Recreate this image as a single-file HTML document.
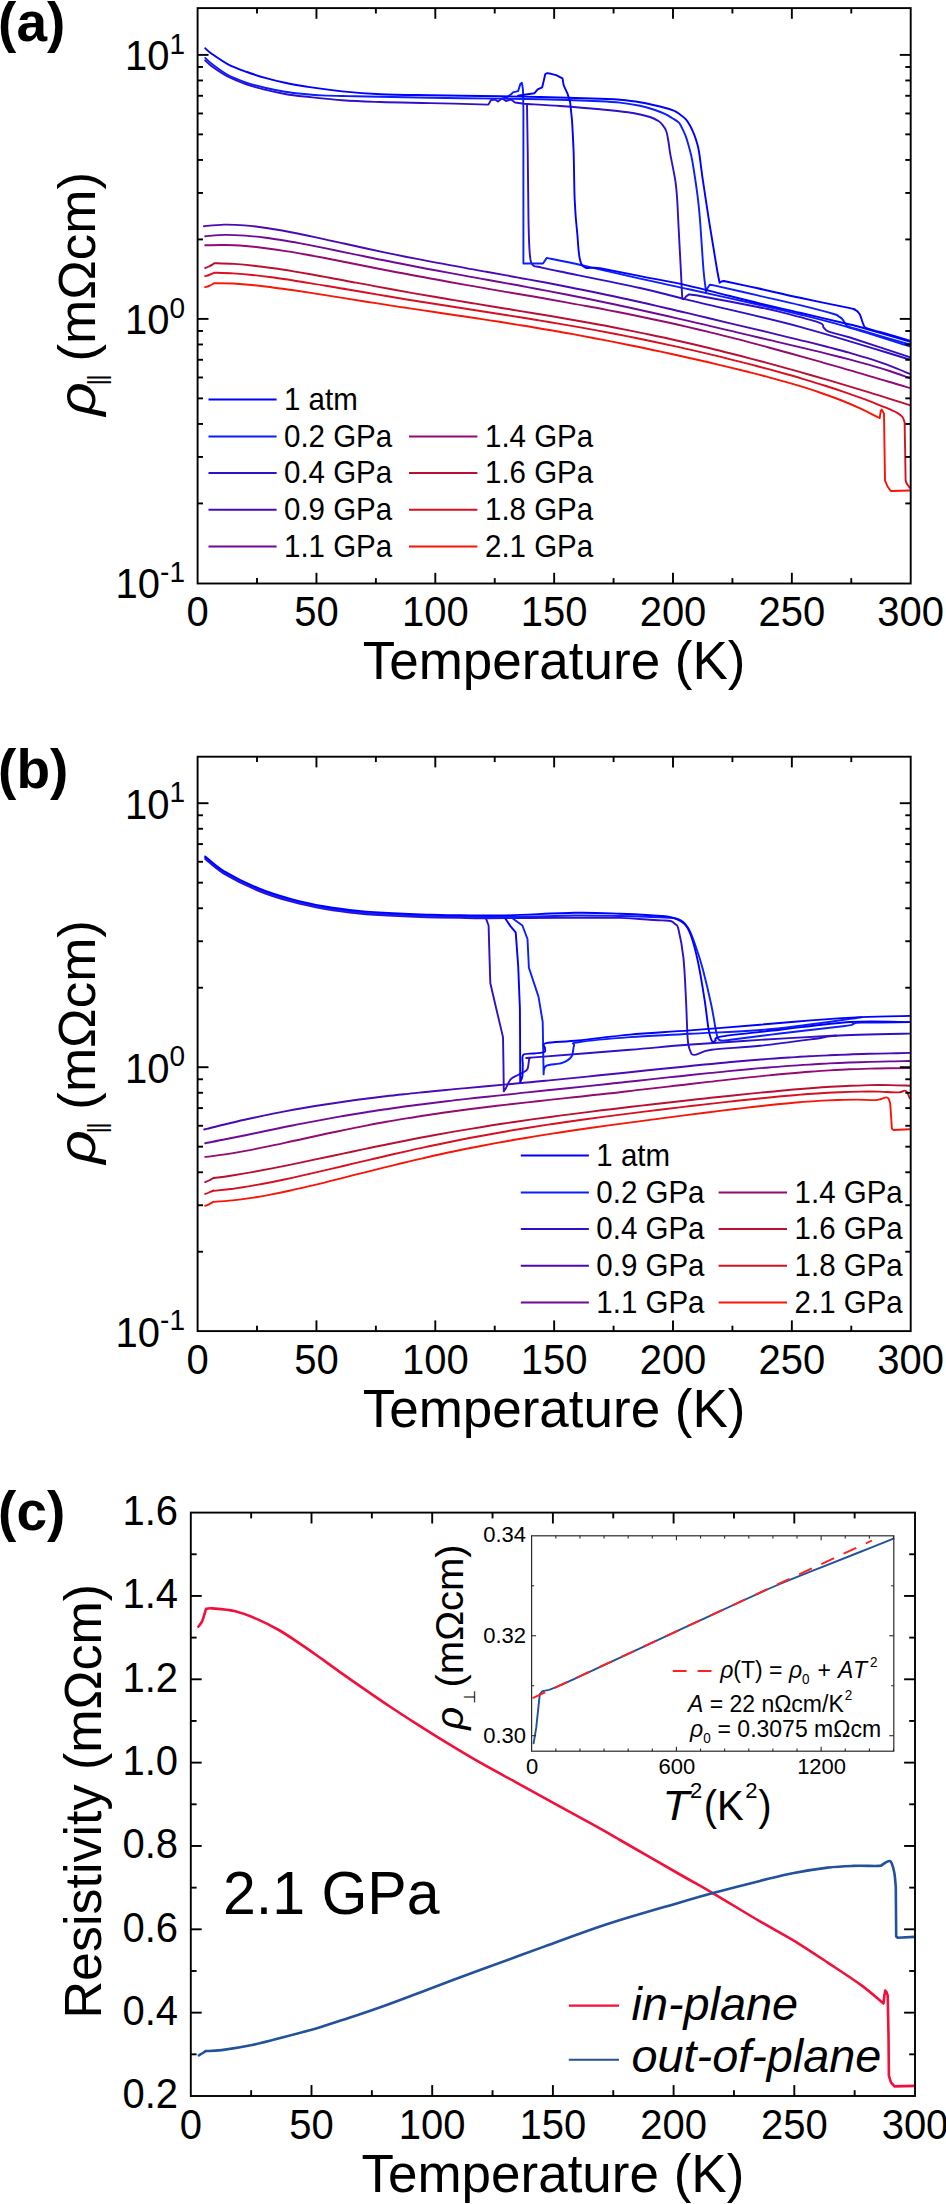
<!DOCTYPE html>
<html><head><meta charset="utf-8"><title>Figure</title>
<style>
html,body{margin:0;padding:0;background:#fff;}
svg{display:block;}
text{font-family:"Liberation Sans",sans-serif;fill:#000;}
.b{font-weight:bold;}
.i{font-style:italic;}
</style></head><body>
<svg width="946" height="2204" viewBox="0 0 946 2204">
<rect width="946" height="2204" fill="#fff"/>
<path d="M204.0 226.2C207.4 225.9 217.4 224.8 224.2 224.6C230.9 224.5 237.6 224.8 244.3 225.4C251.0 225.9 257.8 226.7 264.5 227.7C271.2 228.6 277.9 229.8 284.7 231.0C291.4 232.3 298.1 233.6 304.8 235.0C311.5 236.4 318.3 237.9 325.0 239.4C331.7 240.8 338.4 242.4 345.1 243.8C351.9 245.3 358.6 246.8 365.3 248.3C372.0 249.7 378.7 251.1 385.5 252.6C392.2 254.0 398.9 255.3 405.6 256.7C412.3 258.0 419.1 259.3 425.8 260.6C432.5 261.9 439.2 263.2 446.0 264.4C452.7 265.7 459.4 266.9 466.1 268.1C472.8 269.4 479.6 270.6 486.3 271.8C493.0 273.0 499.7 274.2 506.4 275.4C513.2 276.6 519.9 277.8 526.6 279.1C533.3 280.3 540.0 281.6 546.8 282.8C553.5 284.1 560.2 285.4 566.9 286.7C573.7 288.0 580.4 289.4 587.1 290.8C593.8 292.1 600.5 293.5 607.3 295.0C614.0 296.4 620.7 297.8 627.4 299.3C634.1 300.8 640.9 302.3 647.6 303.8C654.3 305.4 661.0 306.9 667.7 308.5C674.5 310.0 681.2 311.6 687.9 313.2C694.6 314.8 701.4 316.4 708.1 318.0C714.8 319.6 721.5 321.2 728.2 322.8C735.0 324.4 741.7 326.0 748.4 327.6C755.1 329.2 761.8 330.8 768.6 332.4C775.3 334.0 782.0 335.7 788.7 337.3C795.4 338.9 802.2 340.5 808.9 342.2C815.6 343.9 822.3 345.6 829.0 347.3C835.8 349.1 842.5 350.8 849.2 352.7C855.9 354.7 862.7 356.6 869.4 358.7C876.1 360.9 882.8 363.1 889.5 365.6C896.3 368.1 906.3 372.4 909.7 373.8" fill="none" stroke="#480AB4" stroke-width="1.9" stroke-linejoin="round" stroke-linecap="round" />
<path d="M205.2 236.2C208.6 236.0 218.6 235.0 225.3 234.9C232.0 234.8 238.7 235.2 245.5 235.6C252.2 236.1 258.9 236.9 265.6 237.7C272.3 238.6 279.0 239.7 285.7 240.8C292.4 241.9 299.1 243.2 305.8 244.4C312.6 245.7 319.3 247.1 326.0 248.4C332.7 249.8 339.4 251.2 346.1 252.6C352.8 253.9 359.5 255.3 366.2 256.7C372.9 258.1 379.6 259.5 386.4 260.8C393.1 262.2 399.8 263.5 406.5 264.8C413.2 266.1 419.9 267.4 426.6 268.7C433.3 269.9 440.0 271.2 446.7 272.4C453.5 273.7 460.2 274.9 466.9 276.1C473.6 277.4 480.3 278.6 487.0 279.8C493.7 281.0 500.4 282.2 507.1 283.4C513.8 284.7 520.5 285.9 527.3 287.1C534.0 288.4 540.7 289.6 547.4 290.9C554.1 292.2 560.8 293.5 567.5 294.8C574.2 296.1 580.9 297.5 587.6 298.8C594.4 300.2 601.1 301.6 607.8 303.0C614.5 304.4 621.2 305.8 627.9 307.3C634.6 308.8 641.3 310.2 648.0 311.7C654.7 313.2 661.4 314.8 668.2 316.3C674.9 317.8 681.6 319.4 688.3 320.9C695.0 322.5 701.7 324.1 708.4 325.6C715.1 327.2 721.8 328.8 728.5 330.4C735.3 331.9 742.0 333.5 748.7 335.1C755.4 336.7 762.1 338.3 768.8 339.9C775.5 341.4 782.2 343.0 788.9 344.6C795.6 346.2 802.3 347.8 809.1 349.4C815.8 351.0 822.5 352.6 829.2 354.3C835.9 356.0 842.6 357.7 849.3 359.4C856.0 361.2 862.7 363.0 869.4 364.9C876.2 366.9 882.9 368.9 889.6 371.0C896.3 373.2 906.3 376.9 909.7 378.1" fill="none" stroke="#6E0A96" stroke-width="1.9" stroke-linejoin="round" stroke-linecap="round" />
<path d="M205.2 245.3C208.6 245.3 218.6 244.8 225.3 245.0C232.0 245.1 238.7 245.5 245.5 246.0C252.2 246.6 258.9 247.3 265.6 248.2C272.3 249.0 279.0 250.0 285.7 251.1C292.4 252.1 299.1 253.3 305.8 254.5C312.6 255.7 319.3 257.0 326.0 258.3C332.7 259.6 339.4 260.9 346.1 262.2C352.8 263.5 359.5 264.9 366.2 266.2C372.9 267.5 379.6 268.8 386.4 270.2C393.1 271.5 399.8 272.8 406.5 274.0C413.2 275.3 419.9 276.6 426.6 277.8C433.3 279.1 440.0 280.3 446.7 281.5C453.5 282.7 460.2 283.9 466.9 285.1C473.6 286.3 480.3 287.5 487.0 288.6C493.7 289.8 500.4 290.9 507.1 292.1C513.8 293.2 520.5 294.4 527.3 295.5C534.0 296.7 540.7 297.9 547.4 299.0C554.1 300.2 560.8 301.4 567.5 302.6C574.2 303.8 580.9 305.0 587.6 306.3C594.4 307.5 601.1 308.8 607.8 310.1C614.5 311.4 621.2 312.7 627.9 314.0C634.6 315.4 641.3 316.8 648.0 318.2C654.7 319.6 661.4 321.1 668.2 322.5C674.9 324.0 681.6 325.6 688.3 327.1C695.0 328.7 701.7 330.3 708.4 331.9C715.1 333.5 721.8 335.2 728.5 336.9C735.3 338.6 742.0 340.3 748.7 342.1C755.4 343.9 762.1 345.6 768.8 347.5C775.5 349.3 782.2 351.1 788.9 353.0C795.6 354.8 802.3 356.7 809.1 358.6C815.8 360.5 822.5 362.4 829.2 364.4C835.9 366.3 842.6 368.2 849.3 370.2C856.0 372.1 862.7 374.1 869.4 376.1C876.2 378.0 882.9 380.0 889.6 382.0C896.3 383.9 906.3 386.9 909.7 387.9" fill="none" stroke="#930A70" stroke-width="1.9" stroke-linejoin="round" stroke-linecap="round" />
<path d="M205.2 268.0C205.8 267.8 207.5 267.2 209.0 266.5C210.5 265.8 213.2 264.0 214.1 263.5L214.1 263.2C217.4 263.3 227.3 263.5 234.0 263.9C240.6 264.4 247.2 265.0 253.8 265.7C260.5 266.5 267.1 267.4 273.7 268.3C280.3 269.2 287.0 270.3 293.6 271.4C300.2 272.5 306.8 273.7 313.5 274.8C320.1 276.0 326.7 277.2 333.3 278.5C340.0 279.7 346.6 280.9 353.2 282.2C359.8 283.4 366.5 284.6 373.1 285.9C379.7 287.1 386.3 288.3 393.0 289.5C399.6 290.7 406.2 291.9 412.8 293.1C419.5 294.2 426.1 295.4 432.7 296.5C439.3 297.7 446.0 298.8 452.6 299.9C459.2 301.0 465.8 302.1 472.5 303.2C479.1 304.3 485.7 305.4 492.3 306.5C499.0 307.5 505.6 308.6 512.2 309.7C518.8 310.8 525.5 311.9 532.1 313.0C538.7 314.1 545.3 315.2 552.0 316.3C558.6 317.4 565.2 318.6 571.8 319.7C578.5 320.9 585.1 322.1 591.7 323.3C598.3 324.5 605.0 325.7 611.6 327.0C618.2 328.3 624.8 329.6 631.5 330.9C638.1 332.2 644.7 333.6 651.3 335.0C658.0 336.4 664.6 337.8 671.2 339.3C677.8 340.8 684.5 342.3 691.1 343.8C697.7 345.3 704.3 346.9 711.0 348.5C717.6 350.1 724.2 351.8 730.8 353.5C737.5 355.1 744.1 356.8 750.7 358.6C757.3 360.3 764.0 362.1 770.6 363.9C777.2 365.7 783.8 367.5 790.5 369.3C797.1 371.2 803.7 373.1 810.3 375.0C817.0 376.9 823.6 378.8 830.2 380.7C836.8 382.7 843.5 384.6 850.1 386.6C856.7 388.6 863.3 390.6 870.0 392.7C876.6 394.7 883.2 396.8 889.8 398.9C896.5 401.0 906.4 404.2 909.7 405.2" fill="none" stroke="#BA0F32" stroke-width="1.9" stroke-linejoin="round" stroke-linecap="round" />
<path d="M205.2 276.1C205.8 275.9 207.5 275.6 209.0 275.0C210.5 274.4 213.2 273.2 214.1 272.8L214.1 272.7C217.3 272.8 226.8 273.0 233.2 273.4C239.6 273.8 246.0 274.3 252.3 275.0C258.7 275.6 265.1 276.4 271.5 277.3C277.8 278.1 284.2 279.1 290.6 280.0C297.0 281.0 303.3 282.0 309.7 283.1C316.1 284.1 322.5 285.2 328.8 286.3C335.2 287.4 341.6 288.5 348.0 289.5C354.3 290.6 360.7 291.7 367.1 292.8C373.5 293.9 379.8 294.9 386.2 296.0C392.6 297.1 399.0 298.1 405.3 299.2C411.7 300.2 418.1 301.2 424.5 302.3C430.8 303.3 437.2 304.3 443.6 305.3C449.9 306.3 456.3 307.3 462.7 308.3C469.1 309.3 475.4 310.3 481.8 311.3C488.2 312.3 494.6 313.3 500.9 314.3C507.3 315.3 513.7 316.3 520.1 317.3C526.4 318.3 532.8 319.4 539.2 320.4C545.6 321.5 551.9 322.5 558.3 323.6C564.7 324.7 571.1 325.8 577.4 326.9C583.8 328.1 590.2 329.2 596.6 330.4C602.9 331.6 609.3 332.8 615.7 334.0C622.1 335.3 628.4 336.5 634.8 337.8C641.2 339.1 647.6 340.4 653.9 341.7C660.3 343.1 666.7 344.5 673.0 345.9C679.4 347.3 685.8 348.7 692.2 350.2C698.5 351.6 704.9 353.1 711.3 354.6C717.7 356.2 724.0 357.7 730.4 359.3C736.8 360.9 743.2 362.5 749.5 364.1C755.9 365.8 762.3 367.5 768.7 369.2C775.0 370.9 781.4 372.7 787.8 374.5C794.2 376.3 800.5 378.2 806.9 380.1C813.3 382.0 819.7 384.0 826.0 386.0C832.4 388.0 838.8 390.1 845.2 392.3C851.5 394.5 857.9 396.8 864.3 399.2C870.7 401.6 877.9 404.5 883.4 406.7C888.9 409.0 894.0 411.1 897.2 412.8C900.4 414.5 901.3 415.4 902.5 417.0C903.7 418.6 904.2 421.4 904.6 422.3L904.6 422.3L905.1 448.7L905.6 480.4L906.7 483.6L909.9 487.8" fill="none" stroke="#D80F1E" stroke-width="1.9" stroke-linejoin="round" stroke-linecap="round" />
<path d="M205.2 287.1C205.8 286.9 207.5 286.6 209.0 286.0C210.5 285.4 213.2 283.7 214.1 283.2L214.1 283.1C217.3 283.1 226.8 283.2 233.1 283.5C239.5 283.9 245.8 284.4 252.1 285.0C258.5 285.6 264.8 286.4 271.2 287.2C277.5 288.0 283.8 288.9 290.2 289.8C296.5 290.7 302.8 291.7 309.2 292.6C315.5 293.6 321.9 294.6 328.2 295.6C334.5 296.6 340.9 297.6 347.2 298.6C353.6 299.7 359.9 300.7 366.2 301.7C372.6 302.7 378.9 303.6 385.3 304.6C391.6 305.6 397.9 306.6 404.3 307.5C410.6 308.5 416.9 309.4 423.3 310.4C429.6 311.3 436.0 312.3 442.3 313.2C448.6 314.2 455.0 315.1 461.3 316.0C467.7 317.0 474.0 317.9 480.3 318.9C486.7 319.9 493.0 320.8 499.4 321.8C505.7 322.8 512.0 323.8 518.4 324.9C524.7 325.9 531.1 326.9 537.4 328.0C543.7 329.0 550.1 330.1 556.4 331.2C562.7 332.4 569.1 333.5 575.4 334.6C581.8 335.8 588.1 337.0 594.4 338.2C600.8 339.4 607.1 340.6 613.5 341.9C619.8 343.1 626.1 344.4 632.5 345.7C638.8 347.0 645.2 348.3 651.5 349.7C657.8 351.0 664.2 352.4 670.5 353.8C676.9 355.2 683.2 356.6 689.5 358.0C695.9 359.4 702.2 360.9 708.5 362.3C714.9 363.8 721.2 365.3 727.6 366.8C733.9 368.4 740.2 369.9 746.6 371.5C752.9 373.1 759.3 374.7 765.6 376.4C771.9 378.1 778.3 379.8 784.6 381.6C791.0 383.4 797.3 385.3 803.6 387.2C810.0 389.2 816.3 391.3 822.6 393.5C829.0 395.7 835.3 398.0 841.7 400.5C848.0 403.0 854.3 405.7 860.7 408.6C867.0 411.6 876.5 416.6 879.7 418.1L879.7 418.1L880.8 410.7L881.8 409.6L884.0 413.8L884.5 447.7L885.0 480.4L887.7 486.8L890.8 491.0L909.9 490.5" fill="none" stroke="#FA1405" stroke-width="1.9" stroke-linejoin="round" stroke-linecap="round" />
<path d="M205.2 60.5C206.3 61.5 208.2 63.8 212.0 66.5C215.8 69.2 222.2 73.7 228.0 76.7C233.8 79.7 240.7 82.3 247.0 84.5C253.3 86.7 259.8 88.3 266.1 89.9C272.4 91.5 278.6 92.9 285.0 94.0C291.4 95.1 294.6 95.5 304.2 96.5C313.8 97.5 329.6 99.4 342.3 100.3C355.0 101.2 365.8 101.5 380.4 102.0C395.0 102.5 412.0 102.7 430.0 103.1C448.0 103.5 478.7 104.3 488.4 104.6L488.4 104.6L491.0 100.0L495.0 99.5L498.0 101.5L502.0 98.5L506.0 101.0L511.0 99.5L515.0 102.5L524.0 103.8L524.0 103.8C530.0 104.2 547.3 105.1 560.0 106.0C572.7 106.9 587.8 108.1 600.0 109.3C612.2 110.5 624.7 111.7 633.0 113.0C641.3 114.3 645.8 115.7 650.0 117.0C654.2 118.3 656.4 119.8 658.4 121.0C660.4 122.2 660.7 122.6 662.0 124.3C663.3 126.0 665.1 128.1 666.2 131.0C667.3 133.9 667.8 138.1 668.5 142.0C669.2 145.9 669.2 148.1 670.4 154.7C671.6 161.3 674.4 174.2 675.5 181.8C676.6 189.4 676.6 191.1 677.2 200.0C677.8 208.9 678.1 218.5 679.0 235.0C679.9 251.5 681.8 288.2 682.3 298.9L682.3 298.9L684.0 299.3L686.0 296.5L689.0 294.4L689.0 294.4C690.8 294.7 688.5 293.9 700.0 296.0C711.5 298.1 744.7 304.4 757.7 307.0C770.7 309.6 767.9 308.8 778.0 311.4C788.1 314.0 810.9 319.7 818.5 322.4C826.1 325.1 821.9 325.9 823.6 327.5C825.3 329.1 824.3 330.0 828.7 331.7C833.1 333.4 836.5 333.2 850.0 337.5C863.5 341.8 899.8 353.9 909.7 357.2" fill="none" stroke="#300FC8" stroke-width="1.9" stroke-linejoin="round" stroke-linecap="round" />
<path d="M909.7 359.5C891.4 354.1 836.6 336.7 800.0 326.8C763.4 316.9 716.7 306.9 690.0 300.4C663.3 293.9 661.7 292.8 640.0 288.0C618.3 283.2 577.0 275.0 560.0 271.5C543.0 268.0 542.3 267.7 538.0 266.8C533.7 265.9 535.2 266.8 534.0 266.0C532.8 265.2 531.8 264.7 531.0 262.0C530.2 259.3 529.9 257.0 529.5 250.0C529.1 243.0 528.8 236.7 528.5 220.0C528.2 203.3 528.0 169.3 527.7 150.0C527.5 130.7 527.1 111.7 527.0 104.0" fill="none" stroke="#300FC8" stroke-width="1.9" stroke-linejoin="round" stroke-linecap="round" />
<path d="M503.0 98.4L507.0 97.0L511.1 94.3L513.0 92.3L518.1 91.1L520.3 84.1L521.9 82.8L522.9 89.2L523.2 98.0L523.4 110.0L523.4 263.5L543.0 263.5L546.8 257.9L546.8 257.9C552.6 259.1 566.3 261.8 581.8 265.2C597.3 268.6 622.0 274.6 640.0 278.6C658.0 282.7 670.4 285.2 690.0 289.5C709.6 293.8 739.4 300.3 757.7 304.5C776.0 308.7 785.1 310.8 800.0 314.5C814.9 318.2 828.6 321.5 846.9 326.8C865.2 332.1 899.2 343.1 909.7 346.4" fill="none" stroke="#0A1EFF" stroke-width="1.9" stroke-linejoin="round" stroke-linecap="round" />
<path d="M205.2 57.9C206.3 58.9 208.2 61.1 212.0 64.0C215.8 66.8 222.2 71.9 228.0 75.0C233.8 78.1 240.7 80.6 247.0 82.8C253.3 85.0 259.8 86.5 266.1 88.0C272.4 89.5 278.6 90.7 285.0 91.7C291.4 92.7 298.1 93.4 304.2 94.0C310.3 94.6 315.5 95.1 321.9 95.4C328.2 95.7 336.8 95.9 342.3 96.0C347.8 96.1 348.6 96.1 355.0 96.2C361.4 96.3 367.9 96.5 380.4 96.8C392.9 97.1 410.1 97.5 430.0 97.8C449.9 98.1 481.7 98.4 500.0 98.6C518.3 98.8 523.3 98.8 540.0 99.2C556.7 99.6 586.7 100.6 600.0 101.2C613.3 101.8 613.3 101.8 620.0 102.6C626.7 103.4 634.2 104.6 640.0 105.8C645.8 107.0 650.8 108.6 655.0 110.0C659.2 111.4 662.6 112.8 665.4 114.1C668.2 115.4 669.8 116.6 672.0 118.0C674.2 119.4 677.2 120.9 678.9 122.6C680.6 124.3 680.9 125.8 682.0 128.0C683.1 130.2 684.5 132.9 685.7 136.1C686.9 139.3 687.9 142.8 689.0 147.0C690.1 151.2 691.0 153.4 692.4 161.5C693.8 169.6 696.2 185.6 697.5 195.3C698.8 205.1 699.0 207.6 700.0 220.0C701.0 232.4 702.5 258.0 703.5 270.0C704.5 282.0 705.7 288.3 706.1 292.0L706.1 292.0L707.5 288.0L709.5 285.2L709.5 285.2C710.4 285.3 707.0 283.9 715.0 285.6C723.0 287.3 743.5 292.1 757.7 295.4C771.9 298.7 787.3 302.1 800.0 305.2C812.7 308.3 827.5 312.2 833.8 314.0C840.1 315.8 836.6 315.2 838.0 316.0C839.4 316.8 840.9 317.6 842.2 319.0C843.5 320.4 844.6 322.9 845.6 324.1C846.6 325.4 845.6 325.5 848.0 326.5C850.4 327.5 849.7 327.0 860.0 330.0C870.3 333.0 901.4 342.1 909.7 344.5" fill="none" stroke="#0A1EFF" stroke-width="1.9" stroke-linejoin="round" stroke-linecap="round" />
<path d="M205.2 48.3C206.3 49.2 208.2 51.3 212.0 54.0C215.8 56.7 222.2 61.3 228.0 64.3C233.8 67.3 240.7 69.7 247.0 72.0C253.3 74.3 259.8 76.4 266.1 78.2C272.4 80.0 278.6 81.5 285.0 82.8C291.4 84.1 294.6 84.9 304.2 86.3C313.8 87.7 329.6 90.1 342.3 91.4C355.0 92.7 365.8 93.6 380.4 94.2C395.0 94.8 410.1 94.9 430.0 95.2C449.9 95.5 481.7 96.0 500.0 96.3C518.3 96.6 523.3 96.6 540.0 97.0C556.7 97.4 586.7 98.3 600.0 98.8C613.3 99.3 613.3 99.2 620.0 99.8C626.7 100.4 633.3 101.1 640.0 102.2C646.7 103.3 654.4 105.1 660.0 106.5C665.6 107.9 670.5 109.4 673.8 110.7C677.1 112.0 678.0 113.1 680.0 114.5C682.0 115.9 684.0 117.4 685.7 119.2C687.4 121.0 688.6 123.0 690.0 125.5C691.4 128.0 692.9 131.5 694.1 134.4C695.3 137.3 696.1 139.9 697.0 143.0C697.9 146.1 698.3 147.1 699.2 153.0C700.1 158.9 701.2 168.5 702.6 178.4C704.0 188.3 706.0 201.1 707.7 212.2C709.4 223.3 711.4 235.4 713.0 245.0C714.6 254.6 716.0 263.7 717.1 270.0C718.2 276.3 719.2 280.6 719.6 282.7L719.6 282.7L721.5 281.5L723.8 281.0L723.8 281.0C729.4 282.2 745.0 285.5 757.7 288.3C770.4 291.1 784.6 294.5 800.0 297.8C815.4 301.1 841.1 306.2 850.0 308.1C858.9 310.0 852.1 308.5 853.3 309.0C854.5 309.5 856.0 310.1 857.0 311.0C858.0 311.9 858.9 312.8 859.6 314.1C860.4 315.4 860.9 317.3 861.5 319.0C862.1 320.7 862.6 322.8 863.4 324.3C864.1 325.8 863.2 326.5 866.0 327.8C868.8 329.1 872.7 329.9 880.0 332.0C887.3 334.1 904.8 339.2 909.7 340.7" fill="none" stroke="#0000FF" stroke-width="1.9" stroke-linejoin="round" stroke-linecap="round" />
<path d="M909.7 341.5C902.4 339.4 876.0 331.6 866.0 328.8C856.0 326.0 861.0 327.2 850.0 324.5C839.0 321.8 815.4 316.4 800.0 312.8C784.6 309.2 776.0 307.4 757.7 303.0C739.4 298.6 709.6 290.6 690.0 286.1C670.4 281.6 655.0 279.1 640.0 276.1C625.0 273.1 609.7 270.2 600.0 268.3C590.3 266.4 585.6 270.6 581.8 264.7C578.0 258.8 578.4 243.8 577.2 233.0C576.0 222.2 575.3 213.6 574.7 200.0C574.1 186.4 574.1 164.8 573.6 151.5C573.1 138.2 572.3 125.2 572.0 120.0L572.0 120.0L570.1 101.9L567.5 93.6L563.7 85.4L562.5 78.4L556.1 75.2L551.0 73.8L547.2 73.1L545.3 74.0L543.4 82.2L542.2 87.3L537.7 89.4L534.5 93.2L527.6 94.3L518.0 95.8" fill="none" stroke="#0000FF" stroke-width="1.9" stroke-linejoin="round" stroke-linecap="round" />
<path d="M204.2 1129.5C207.6 1128.7 217.6 1126.1 224.4 1124.5C231.1 1122.9 237.8 1121.3 244.5 1119.8C251.2 1118.3 258.0 1116.8 264.7 1115.4C271.4 1114.0 278.1 1112.7 284.8 1111.4C291.5 1110.1 298.3 1108.9 305.0 1107.8C311.7 1106.6 318.4 1105.5 325.1 1104.5C331.9 1103.4 338.6 1102.4 345.3 1101.5C352.0 1100.5 358.7 1099.6 365.5 1098.8C372.2 1097.9 378.9 1097.1 385.6 1096.3C392.3 1095.5 399.1 1094.8 405.8 1094.1C412.5 1093.3 419.2 1092.7 425.9 1092.0C432.6 1091.3 439.4 1090.6 446.1 1090.0C452.8 1089.3 459.5 1088.7 466.2 1088.1C473.0 1087.5 479.7 1086.8 486.4 1086.2C493.1 1085.6 499.8 1085.0 506.6 1084.4C513.3 1083.7 520.0 1083.1 526.7 1082.5C533.4 1081.8 540.2 1081.2 546.9 1080.6C553.6 1079.9 560.3 1079.3 567.0 1078.6C573.7 1077.9 580.5 1077.3 587.2 1076.6C593.9 1075.9 600.6 1075.2 607.3 1074.5C614.1 1073.8 620.8 1073.1 627.5 1072.5C634.2 1071.8 640.9 1071.0 647.7 1070.3C654.4 1069.6 661.1 1068.9 667.8 1068.2C674.5 1067.6 681.3 1066.9 688.0 1066.2C694.7 1065.5 701.4 1064.8 708.1 1064.2C714.8 1063.5 721.6 1062.9 728.3 1062.3C735.0 1061.7 741.7 1061.1 748.4 1060.5C755.2 1060.0 761.9 1059.4 768.6 1058.9C775.3 1058.4 782.0 1057.9 788.8 1057.5C795.5 1057.1 802.2 1056.6 808.9 1056.3C815.6 1055.9 822.4 1055.6 829.1 1055.3C835.8 1055.0 842.5 1054.7 849.2 1054.5C855.9 1054.2 862.7 1054.0 869.4 1053.8C876.1 1053.7 882.8 1053.5 889.5 1053.4C896.3 1053.2 906.3 1053.0 909.7 1052.9" fill="none" stroke="#480AB4" stroke-width="1.9" stroke-linejoin="round" stroke-linecap="round" />
<path d="M205.2 1143.3C208.6 1142.6 218.6 1140.7 225.3 1139.3C232.0 1138.0 238.7 1136.6 245.5 1135.2C252.2 1133.8 258.9 1132.4 265.6 1131.0C272.3 1129.6 279.0 1128.2 285.7 1126.8C292.4 1125.5 299.1 1124.1 305.8 1122.9C312.6 1121.6 319.3 1120.3 326.0 1119.1C332.7 1117.8 339.4 1116.7 346.1 1115.5C352.8 1114.4 359.5 1113.3 366.2 1112.2C372.9 1111.2 379.6 1110.1 386.4 1109.2C393.1 1108.2 399.8 1107.2 406.5 1106.3C413.2 1105.4 419.9 1104.5 426.6 1103.7C433.3 1102.9 440.0 1102.0 446.7 1101.2C453.5 1100.5 460.2 1099.7 466.9 1098.9C473.6 1098.2 480.3 1097.4 487.0 1096.7C493.7 1096.0 500.4 1095.3 507.1 1094.6C513.8 1093.8 520.5 1093.1 527.3 1092.4C534.0 1091.7 540.7 1091.0 547.4 1090.3C554.1 1089.6 560.8 1088.9 567.5 1088.2C574.2 1087.5 580.9 1086.8 587.6 1086.1C594.4 1085.4 601.1 1084.7 607.8 1084.0C614.5 1083.2 621.2 1082.5 627.9 1081.8C634.6 1081.1 641.3 1080.3 648.0 1079.6C654.7 1078.9 661.4 1078.1 668.2 1077.4C674.9 1076.7 681.6 1076.0 688.3 1075.2C695.0 1074.5 701.7 1073.8 708.4 1073.1C715.1 1072.5 721.8 1071.8 728.5 1071.1C735.3 1070.5 742.0 1069.8 748.7 1069.2C755.4 1068.6 762.1 1068.0 768.8 1067.5C775.5 1066.9 782.2 1066.4 788.9 1065.9C795.6 1065.4 802.3 1065.0 809.1 1064.6C815.8 1064.1 822.5 1063.8 829.2 1063.4C835.9 1063.1 842.6 1062.8 849.3 1062.5C856.0 1062.3 862.7 1062.1 869.4 1061.9C876.2 1061.7 882.9 1061.5 889.6 1061.4C896.3 1061.2 906.3 1061.1 909.7 1061.0" fill="none" stroke="#6E0A96" stroke-width="1.9" stroke-linejoin="round" stroke-linecap="round" />
<path d="M205.2 1156.9C208.6 1156.4 218.6 1155.3 225.3 1154.4C232.0 1153.4 238.7 1152.2 245.5 1150.9C252.2 1149.7 258.9 1148.3 265.6 1146.9C272.3 1145.6 279.0 1144.1 285.7 1142.6C292.4 1141.2 299.1 1139.7 305.8 1138.2C312.6 1136.7 319.3 1135.3 326.0 1133.8C332.7 1132.4 339.4 1131.0 346.1 1129.6C352.8 1128.2 359.5 1126.9 366.2 1125.6C372.9 1124.3 379.6 1123.0 386.4 1121.8C393.1 1120.6 399.8 1119.5 406.5 1118.4C413.2 1117.3 419.9 1116.2 426.6 1115.2C433.3 1114.2 440.0 1113.2 446.7 1112.3C453.5 1111.3 460.2 1110.4 466.9 1109.5C473.6 1108.7 480.3 1107.8 487.0 1107.0C493.7 1106.2 500.4 1105.4 507.1 1104.6C513.8 1103.9 520.5 1103.1 527.3 1102.4C534.0 1101.6 540.7 1100.9 547.4 1100.1C554.1 1099.4 560.8 1098.7 567.5 1097.9C574.2 1097.2 580.9 1096.5 587.6 1095.7C594.4 1095.0 601.1 1094.3 607.8 1093.5C614.5 1092.8 621.2 1092.0 627.9 1091.2C634.6 1090.5 641.3 1089.7 648.0 1088.9C654.7 1088.2 661.4 1087.4 668.2 1086.6C674.9 1085.8 681.6 1085.0 688.3 1084.3C695.0 1083.5 701.7 1082.7 708.4 1081.9C715.1 1081.2 721.8 1080.4 728.5 1079.6C735.3 1078.9 742.0 1078.1 748.7 1077.4C755.4 1076.7 762.1 1076.0 768.8 1075.4C775.5 1074.7 782.2 1074.1 788.9 1073.5C795.6 1072.9 802.3 1072.3 809.1 1071.8C815.8 1071.3 822.5 1070.8 829.2 1070.4C835.9 1070.0 842.6 1069.6 849.3 1069.3C856.0 1069.0 862.7 1068.8 869.4 1068.6C876.2 1068.4 882.9 1068.2 889.6 1068.2C896.3 1068.1 906.3 1068.1 909.7 1068.1" fill="none" stroke="#930A70" stroke-width="1.9" stroke-linejoin="round" stroke-linecap="round" />
<path d="M205.2 1182.1C205.8 1181.8 207.6 1181.2 209.0 1180.5C210.4 1179.8 212.9 1178.2 213.7 1177.7L213.7 1178.0C217.0 1177.6 227.0 1176.3 233.6 1175.2C240.2 1174.2 246.8 1173.1 253.5 1171.9C260.1 1170.7 266.7 1169.4 273.4 1168.1C280.0 1166.8 286.6 1165.5 293.2 1164.1C299.9 1162.8 306.5 1161.4 313.1 1159.9C319.8 1158.5 326.4 1157.1 333.0 1155.7C339.6 1154.3 346.3 1152.9 352.9 1151.5C359.5 1150.1 366.2 1148.7 372.8 1147.3C379.4 1145.9 386.0 1144.5 392.7 1143.2C399.3 1141.9 405.9 1140.6 412.6 1139.3C419.2 1138.0 425.8 1136.7 432.4 1135.5C439.1 1134.3 445.7 1133.1 452.3 1131.9C459.0 1130.8 465.6 1129.7 472.2 1128.6C478.8 1127.5 485.5 1126.4 492.1 1125.3C498.7 1124.3 505.4 1123.3 512.0 1122.3C518.6 1121.3 525.2 1120.4 531.9 1119.4C538.5 1118.5 545.1 1117.6 551.8 1116.7C558.4 1115.8 565.0 1114.9 571.6 1114.1C578.3 1113.2 584.9 1112.4 591.5 1111.6C598.2 1110.7 604.8 1109.9 611.4 1109.2C618.0 1108.4 624.7 1107.6 631.3 1106.8C637.9 1106.0 644.6 1105.3 651.2 1104.5C657.8 1103.7 664.4 1103.0 671.1 1102.2C677.7 1101.5 684.3 1100.8 691.0 1100.0C697.6 1099.3 704.2 1098.6 710.8 1097.8C717.5 1097.1 724.1 1096.4 730.7 1095.7C737.4 1095.0 744.0 1094.3 750.6 1093.6C757.2 1093.0 763.9 1092.3 770.5 1091.7C777.1 1091.0 783.8 1090.4 790.4 1089.8C797.0 1089.3 803.6 1088.7 810.3 1088.2C816.9 1087.7 823.5 1087.2 830.2 1086.8C836.8 1086.4 843.4 1086.0 850.0 1085.8C856.7 1085.5 863.3 1085.3 869.9 1085.1C876.6 1085.0 883.2 1085.0 889.8 1085.1C896.4 1085.2 906.4 1085.6 909.7 1085.7" fill="none" stroke="#BA0F32" stroke-width="1.9" stroke-linejoin="round" stroke-linecap="round" />
<path d="M205.2 1193.9C205.8 1193.7 207.6 1193.1 209.0 1192.5C210.4 1191.9 212.9 1190.8 213.7 1190.5L213.7 1190.9C217.0 1190.5 226.7 1189.5 233.3 1188.7C239.8 1187.8 246.3 1186.7 252.8 1185.6C259.4 1184.5 265.9 1183.3 272.4 1182.0C278.9 1180.7 285.5 1179.3 292.0 1177.9C298.5 1176.4 305.0 1174.9 311.6 1173.4C318.1 1171.9 324.6 1170.4 331.1 1168.9C337.7 1167.3 344.2 1165.8 350.7 1164.2C357.2 1162.7 363.7 1161.1 370.3 1159.6C376.8 1158.0 383.3 1156.5 389.8 1155.0C396.4 1153.5 402.9 1152.0 409.4 1150.6C415.9 1149.1 422.5 1147.7 429.0 1146.3C435.5 1144.9 442.0 1143.5 448.6 1142.2C455.1 1140.9 461.6 1139.6 468.1 1138.3C474.7 1137.1 481.2 1135.9 487.7 1134.7C494.2 1133.5 500.7 1132.4 507.3 1131.2C513.8 1130.1 520.3 1129.0 526.8 1128.0C533.4 1126.9 539.9 1125.9 546.4 1124.9C552.9 1123.9 559.5 1123.0 566.0 1122.0C572.5 1121.1 579.0 1120.2 585.6 1119.3C592.1 1118.4 598.6 1117.5 605.1 1116.6C611.7 1115.8 618.2 1114.9 624.7 1114.1C631.2 1113.3 637.7 1112.4 644.3 1111.6C650.8 1110.8 657.3 1110.0 663.8 1109.2C670.4 1108.4 676.9 1107.7 683.4 1106.9C689.9 1106.1 696.5 1105.4 703.0 1104.6C709.5 1103.9 716.0 1103.1 722.6 1102.4C729.1 1101.7 735.6 1100.9 742.1 1100.3C748.7 1099.6 755.2 1098.9 761.7 1098.2C768.2 1097.6 774.7 1096.9 781.3 1096.3C787.8 1095.7 794.3 1095.2 800.8 1094.6C807.4 1094.1 813.9 1093.6 820.4 1093.2C826.9 1092.8 833.5 1092.5 840.0 1092.2C846.5 1091.9 853.0 1091.7 859.6 1091.6C866.1 1091.5 872.6 1091.5 879.1 1091.6C885.7 1091.8 894.5 1092.6 898.7 1092.4C902.9 1092.2 903.2 1090.6 904.6 1090.6C906.0 1090.6 906.2 1091.0 907.1 1092.3C908.0 1093.6 909.3 1097.2 909.7 1098.2" fill="none" stroke="#D80F1E" stroke-width="1.9" stroke-linejoin="round" stroke-linecap="round" />
<path d="M205.2 1205.8C205.8 1205.5 207.6 1205.0 209.0 1204.3C210.4 1203.6 212.9 1202.1 213.7 1201.7L213.7 1201.9C216.8 1201.7 226.3 1201.1 232.6 1200.4C238.9 1199.8 245.2 1198.9 251.5 1197.9C257.8 1197.0 264.1 1195.8 270.4 1194.6C276.7 1193.4 283.0 1192.1 289.3 1190.7C295.6 1189.4 301.9 1187.9 308.2 1186.4C314.5 1184.9 320.8 1183.4 327.1 1181.8C333.4 1180.3 339.7 1178.7 346.0 1177.1C352.3 1175.5 358.6 1173.9 364.9 1172.3C371.2 1170.7 377.5 1169.2 383.7 1167.6C390.0 1166.1 396.3 1164.5 402.6 1163.0C408.9 1161.5 415.2 1160.0 421.5 1158.6C427.8 1157.1 434.1 1155.7 440.4 1154.3C446.7 1152.9 453.0 1151.6 459.3 1150.3C465.6 1149.0 471.9 1147.7 478.2 1146.5C484.5 1145.3 490.8 1144.1 497.1 1142.9C503.4 1141.8 509.7 1140.6 516.0 1139.5C522.3 1138.5 528.6 1137.4 534.9 1136.4C541.2 1135.3 547.5 1134.3 553.8 1133.4C560.1 1132.4 566.4 1131.4 572.7 1130.5C579.0 1129.6 585.3 1128.7 591.6 1127.8C597.9 1126.9 604.2 1126.0 610.5 1125.1C616.8 1124.3 623.1 1123.4 629.4 1122.6C635.7 1121.7 642.0 1120.9 648.3 1120.1C654.6 1119.2 660.9 1118.4 667.2 1117.6C673.5 1116.8 679.8 1116.0 686.1 1115.1C692.4 1114.3 698.7 1113.5 705.0 1112.7C711.2 1112.0 717.5 1111.2 723.8 1110.4C730.1 1109.6 736.4 1108.9 742.7 1108.1C749.0 1107.4 755.3 1106.7 761.6 1106.0C767.9 1105.3 774.2 1104.6 780.5 1104.0C786.8 1103.4 793.1 1102.8 799.4 1102.3C805.7 1101.7 812.0 1101.3 818.3 1100.9C824.6 1100.5 830.9 1100.2 837.2 1100.0C843.5 1099.8 849.8 1099.6 856.1 1099.6C862.4 1099.7 870.9 1100.2 875.0 1100.1C879.1 1100.0 879.2 1099.4 881.0 1099.0C882.8 1098.6 884.8 1097.5 886.0 1097.4C887.2 1097.3 887.8 1097.5 888.5 1098.5C889.2 1099.5 889.9 1102.5 890.2 1103.3L890.2 1103.3L891.9 1128.7L893.6 1130.0L909.7 1129.2" fill="none" stroke="#FA1405" stroke-width="1.9" stroke-linejoin="round" stroke-linecap="round" />
<path d="M205.2 859.0C208.3 861.4 215.1 868.3 223.8 873.6C232.6 878.8 246.4 885.8 257.7 890.5C269.0 895.2 280.2 898.6 291.5 901.7C302.8 904.8 314.0 907.1 325.3 909.1C336.6 911.1 347.8 912.4 359.1 913.5C370.4 914.6 381.7 915.3 393.0 915.9C404.3 916.5 415.5 916.9 426.8 917.2C438.1 917.5 450.7 917.7 460.6 917.9C470.5 918.1 469.5 918.2 486.1 918.2C502.7 918.2 537.7 917.8 560.0 917.8C582.3 917.8 605.0 917.6 620.0 917.9C635.0 918.2 643.0 919.4 650.0 919.8C657.0 920.2 658.5 920.2 662.0 920.4C665.5 920.6 668.5 920.4 670.7 921.0C672.9 921.6 673.7 922.7 675.0 924.0C676.3 925.3 677.0 923.3 678.4 928.9C679.8 934.5 682.1 945.9 683.4 957.7C684.7 969.5 685.3 986.4 686.0 999.9C686.7 1013.4 687.0 1030.3 687.7 1038.8C688.4 1047.3 689.1 1048.0 690.2 1050.7C691.3 1053.4 690.9 1055.1 694.4 1054.9C697.9 1054.8 700.4 1051.3 711.3 1049.8C722.2 1048.3 742.0 1047.7 760.0 1045.8C778.0 1043.9 806.5 1039.9 819.2 1038.2C831.9 1036.5 821.0 1036.5 836.1 1035.7C851.2 1034.9 897.4 1033.9 909.7 1033.6" fill="none" stroke="#300FC8" stroke-width="1.9" stroke-linejoin="round" stroke-linecap="round" />
<path d="M836.1 1035.5C823.4 1036.2 784.7 1038.4 760.0 1039.9C735.3 1041.5 709.4 1043.2 687.7 1044.8C666.0 1046.4 655.6 1047.7 630.0 1049.8C604.4 1051.9 550.8 1056.1 534.3 1057.4C517.8 1058.7 531.9 1057.5 531.0 1057.8C530.1 1058.1 529.6 1058.1 529.2 1059.1C528.8 1060.1 528.9 1062.2 528.5 1064.0C528.1 1065.8 528.5 1068.3 526.7 1070.1C525.0 1071.9 520.7 1073.5 518.0 1075.0C515.3 1076.5 512.6 1077.2 510.6 1079.4C508.6 1081.6 507.1 1086.0 506.0 1088.0C504.9 1090.0 504.2 1090.8 503.8 1091.3L503.8 1091.3L503.4 1060.0L503.0 1037.1L495.4 1005.0L490.3 983.0L489.3 950.0L488.6 925.5L486.1 918.8" fill="none" stroke="#300FC8" stroke-width="1.9" stroke-linejoin="round" stroke-linecap="round" />
<path d="M205.2 857.7C208.3 860.1 215.1 867.0 223.8 872.3C232.6 877.5 246.4 884.5 257.7 889.2C269.0 893.9 280.2 897.3 291.5 900.4C302.8 903.5 314.0 905.8 325.3 907.8C336.6 909.8 347.8 911.1 359.1 912.2C370.4 913.3 381.7 914.0 393.0 914.6C404.3 915.2 415.5 915.6 426.8 915.9C438.1 916.2 446.2 916.4 460.6 916.6C475.0 916.8 494.0 917.2 513.1 917.0C532.2 916.8 557.2 915.7 575.0 915.5C592.8 915.3 607.5 915.8 620.0 916.0C632.5 916.2 640.7 916.6 650.0 917.0C659.3 917.4 669.7 916.8 676.0 918.5C682.3 920.2 684.4 922.4 687.7 927.2C691.1 932.0 693.6 940.5 696.1 947.5C698.6 954.5 700.4 959.9 702.9 969.5C705.4 979.1 709.2 995.1 711.3 1005.0C713.4 1014.9 714.5 1023.1 715.6 1028.7C716.7 1034.3 717.0 1036.8 718.1 1038.8C719.2 1040.8 719.9 1040.3 722.0 1040.5C724.1 1040.7 720.9 1040.9 730.6 1039.7C740.3 1038.5 760.9 1035.8 780.0 1033.5C799.1 1031.2 832.8 1027.6 845.0 1026.0C857.2 1024.4 850.2 1024.6 853.0 1024.0C855.8 1023.4 852.5 1022.9 862.0 1022.6C871.5 1022.3 901.8 1022.2 909.7 1022.1" fill="none" stroke="#0A1EFF" stroke-width="1.9" stroke-linejoin="round" stroke-linecap="round" />
<path d="M861.5 1017.3C847.0 1019.2 803.2 1026.0 774.6 1028.8C746.0 1031.5 714.1 1032.4 690.0 1033.8C665.9 1035.2 648.6 1035.7 630.0 1037.1C611.4 1038.5 587.5 1040.8 578.2 1042.2C568.9 1043.6 575.1 1043.2 574.0 1045.6C572.9 1048.0 573.5 1053.7 571.5 1056.6C569.5 1059.5 566.4 1061.4 562.2 1062.9C558.0 1064.5 549.2 1064.0 546.1 1065.9C543.0 1067.8 544.0 1073.0 543.6 1074.4L543.6 1074.4L543.2 1050.0L542.7 1021.9L538.5 996.6L528.9 967.8L527.5 939.0L522.4 925.5L513.1 918.8" fill="none" stroke="#0A1EFF" stroke-width="1.9" stroke-linejoin="round" stroke-linecap="round" />
<path d="M205.2 856.4C208.3 858.8 215.1 865.8 223.8 871.0C232.6 876.2 246.4 883.2 257.7 887.9C269.0 892.6 280.2 896.0 291.5 899.1C302.8 902.2 314.0 904.5 325.3 906.5C336.6 908.5 347.8 909.8 359.1 910.9C370.4 912.0 381.7 912.7 393.0 913.3C404.3 913.9 415.5 914.3 426.8 914.6C438.1 914.9 447.5 915.2 460.6 915.3C473.7 915.4 486.4 915.8 505.5 915.4C524.6 915.0 555.9 913.1 575.0 912.8C594.1 912.5 607.5 913.3 620.0 913.7C632.5 914.1 641.5 914.7 650.0 915.3C658.5 915.9 665.0 915.7 670.7 917.1C676.4 918.5 680.9 920.7 684.3 923.8C687.7 926.9 688.8 929.5 691.0 935.7C693.2 941.9 695.5 950.3 697.8 961.0C700.1 971.7 702.8 988.3 704.6 999.9C706.4 1011.5 707.5 1023.5 708.8 1030.4C710.1 1037.3 711.1 1039.7 712.2 1041.4C713.3 1043.1 713.8 1041.4 715.4 1040.6C717.0 1039.8 711.3 1038.2 722.1 1036.4C732.9 1034.6 758.7 1032.2 780.0 1029.8C801.3 1027.4 828.4 1023.3 850.0 1022.0C871.6 1020.7 899.8 1022.1 909.7 1022.1" fill="none" stroke="#0000FF" stroke-width="1.9" stroke-linejoin="round" stroke-linecap="round" />
<path d="M909.7 1015.9C901.7 1016.1 878.0 1016.4 861.5 1017.1C845.0 1017.9 827.6 1019.1 810.7 1020.4C793.8 1021.7 780.1 1023.0 760.0 1024.7C739.9 1026.4 711.7 1028.8 690.0 1030.4C668.3 1032.1 648.6 1032.9 630.0 1034.6C611.4 1036.3 592.2 1039.1 578.2 1040.5C564.2 1041.9 551.6 1041.8 546.1 1043.1C540.6 1044.3 545.3 1046.5 545.0 1048.0C544.7 1049.5 546.2 1051.1 544.4 1052.0C542.6 1052.9 537.5 1053.0 534.0 1053.5C530.5 1054.0 525.2 1053.0 523.3 1054.9C521.4 1056.8 522.9 1061.5 522.8 1065.0C522.6 1068.5 522.8 1073.2 522.4 1076.0C522.0 1078.8 520.6 1081.0 520.2 1082.0L520.2 1082.0L520.1 1040.0L519.9 1008.4L518.2 966.1L515.7 932.3L510.6 926.4L505.5 918.8" fill="none" stroke="#0000FF" stroke-width="1.9" stroke-linejoin="round" stroke-linecap="round" />
<path d="M198.4 1626.6C199.0 1625.7 200.9 1624.0 202.2 1621.1C203.5 1618.1 205.4 1610.9 206.0 1608.9L206.0 1608.9C207.0 1608.8 207.5 1608.0 212.2 1608.4C216.9 1608.8 227.0 1609.3 234.4 1611.1C241.8 1612.8 249.2 1615.8 256.6 1618.9C264.0 1622.1 271.4 1625.8 278.8 1630.0C286.2 1634.2 293.6 1639.4 301.0 1644.4C308.4 1649.4 315.8 1654.7 323.2 1659.9C330.6 1665.2 338.0 1670.7 345.4 1675.9C352.8 1681.2 360.2 1686.3 367.6 1691.4C375.0 1696.5 382.1 1701.4 389.8 1706.5C397.5 1711.6 405.4 1716.8 413.8 1722.1C422.2 1727.4 429.3 1732.0 440.0 1738.6C450.7 1745.1 465.4 1754.1 478.1 1761.4C490.8 1768.7 503.4 1775.3 516.1 1782.3C528.8 1789.3 541.5 1796.3 554.2 1803.3C566.9 1810.3 581.2 1818.1 592.2 1824.2C603.2 1830.3 605.4 1831.6 620.0 1840.0C634.6 1848.4 664.5 1865.6 680.0 1874.5C695.5 1883.4 699.8 1885.5 713.1 1893.3C726.4 1901.1 746.5 1913.5 760.0 1921.4C773.5 1929.3 782.5 1933.7 793.8 1940.6C805.1 1947.5 816.4 1955.1 827.7 1962.6C839.0 1970.1 852.2 1978.6 861.5 1985.4C870.8 1992.2 879.8 2000.5 883.5 2003.5L883.5 2003.5L884.3 1996.0L885.2 1990.5L886.5 1992.0L887.7 1995.6L888.5 2035.3L888.9 2075.9L891.1 2082.7L894.5 2086.4L914.3 2085.9" fill="none" stroke="#F2103A" stroke-width="2.6" stroke-linejoin="round" stroke-linecap="round" />
<path d="M198.9 2055.4C199.4 2055.1 200.8 2054.2 202.0 2053.5C203.2 2052.8 205.2 2051.4 205.9 2051.0L205.9 2051.0C208.5 2050.8 213.8 2051.2 221.7 2050.1C229.6 2049.0 242.8 2046.9 253.4 2044.7C264.0 2042.5 274.5 2039.5 285.1 2036.7C295.7 2034.0 306.3 2031.3 316.9 2028.2C327.5 2025.1 338.0 2021.5 348.6 2018.0C359.2 2014.5 369.7 2011.0 380.3 2007.2C390.9 2003.5 401.4 1999.5 412.0 1995.5C422.6 1991.5 432.4 1987.8 443.7 1983.5C455.0 1979.2 463.4 1976.1 480.0 1970.0C496.6 1963.9 522.3 1954.5 543.4 1946.9C564.5 1939.3 584.0 1931.6 606.8 1924.2C629.6 1916.8 662.3 1907.6 680.0 1902.4C697.7 1897.2 699.8 1896.6 713.1 1893.0C726.4 1889.4 746.5 1884.2 760.0 1880.9C773.5 1877.6 782.5 1875.2 793.8 1873.0C805.1 1870.8 817.8 1868.8 827.7 1867.6C837.6 1866.4 844.5 1866.2 853.0 1865.9C861.5 1865.6 873.6 1866.1 878.4 1865.9C883.2 1865.8 880.5 1865.6 881.8 1865.0C883.1 1864.4 884.6 1863.0 886.0 1862.3C887.4 1861.6 888.9 1860.8 889.9 1861.0C890.9 1861.2 891.1 1861.6 891.9 1863.7C892.7 1865.8 893.9 1869.8 894.5 1873.8C895.1 1877.8 895.6 1885.1 895.8 1887.4L895.8 1887.4L896.2 1936.4L897.8 1937.8L914.3 1936.9" fill="none" stroke="#22529A" stroke-width="2.6" stroke-linejoin="round" stroke-linecap="round" />
<line x1="568.8" y1="2005.6" x2="619" y2="2005.6" stroke="#F2103A" stroke-width="2.1"/>
<line x1="568.8" y1="2059.7" x2="619" y2="2059.7" stroke="#22529A" stroke-width="2.1"/>
<rect x="532" y="1536" width="362" height="215.3" fill="#fff" stroke="none"/>
<path d="M533.6 1743.4L536.2 1727.9L539.8 1694.2L542.0 1691.5L545.0 1690.6L545.0 1690.6C547.5 1689.7 544.2 1692.5 560.0 1685.4C575.8 1678.4 616.7 1659.1 640.0 1648.3C663.3 1637.5 677.7 1630.7 700.0 1620.4C722.3 1610.1 754.0 1595.2 774.0 1586.5C794.0 1577.8 805.7 1573.7 820.0 1567.9C834.3 1562.2 847.8 1556.9 860.0 1552.0C872.2 1547.1 887.9 1540.9 893.5 1538.7" fill="none" stroke="#22529A" stroke-width="1.9" stroke-linejoin="round" stroke-linecap="round" />
<line x1="532.5" y1="1698.2" x2="872" y2="1540.5" stroke="#FF2020" stroke-width="1.9" stroke-dasharray="14 10.5"/>
<line x1="672.7" y1="1671" x2="686.6" y2="1671" stroke="#FF2020" stroke-width="2"/>
<line x1="697.6" y1="1671" x2="711.5" y2="1671" stroke="#FF2020" stroke-width="2"/>
<rect x="197.60" y="8.10" width="713.10" height="575.40" fill="none" stroke="#000" stroke-width="1.9"/>
<line x1="257.02" y1="8.10" x2="257.02" y2="13.50" stroke="#000" stroke-width="1.9"/>
<line x1="257.02" y1="583.50" x2="257.02" y2="578.10" stroke="#000" stroke-width="1.9"/>
<line x1="316.45" y1="8.10" x2="316.45" y2="18.80" stroke="#000" stroke-width="1.9"/>
<line x1="316.45" y1="583.50" x2="316.45" y2="572.80" stroke="#000" stroke-width="1.9"/>
<line x1="375.88" y1="8.10" x2="375.88" y2="13.50" stroke="#000" stroke-width="1.9"/>
<line x1="375.88" y1="583.50" x2="375.88" y2="578.10" stroke="#000" stroke-width="1.9"/>
<line x1="435.30" y1="8.10" x2="435.30" y2="18.80" stroke="#000" stroke-width="1.9"/>
<line x1="435.30" y1="583.50" x2="435.30" y2="572.80" stroke="#000" stroke-width="1.9"/>
<line x1="494.73" y1="8.10" x2="494.73" y2="13.50" stroke="#000" stroke-width="1.9"/>
<line x1="494.73" y1="583.50" x2="494.73" y2="578.10" stroke="#000" stroke-width="1.9"/>
<line x1="554.15" y1="8.10" x2="554.15" y2="18.80" stroke="#000" stroke-width="1.9"/>
<line x1="554.15" y1="583.50" x2="554.15" y2="572.80" stroke="#000" stroke-width="1.9"/>
<line x1="613.58" y1="8.10" x2="613.58" y2="13.50" stroke="#000" stroke-width="1.9"/>
<line x1="613.58" y1="583.50" x2="613.58" y2="578.10" stroke="#000" stroke-width="1.9"/>
<line x1="673.00" y1="8.10" x2="673.00" y2="18.80" stroke="#000" stroke-width="1.9"/>
<line x1="673.00" y1="583.50" x2="673.00" y2="572.80" stroke="#000" stroke-width="1.9"/>
<line x1="732.43" y1="8.10" x2="732.43" y2="13.50" stroke="#000" stroke-width="1.9"/>
<line x1="732.43" y1="583.50" x2="732.43" y2="578.10" stroke="#000" stroke-width="1.9"/>
<line x1="791.85" y1="8.10" x2="791.85" y2="18.80" stroke="#000" stroke-width="1.9"/>
<line x1="791.85" y1="583.50" x2="791.85" y2="572.80" stroke="#000" stroke-width="1.9"/>
<line x1="851.28" y1="8.10" x2="851.28" y2="13.50" stroke="#000" stroke-width="1.9"/>
<line x1="851.28" y1="583.50" x2="851.28" y2="578.10" stroke="#000" stroke-width="1.9"/>
<text transform="translate(197.6 626.3) scale(1 1.040)" font-size="40" text-anchor="middle" class="" >0</text>
<text transform="translate(316.4 626.3) scale(1 1.040)" font-size="40" text-anchor="middle" class="" >50</text>
<text transform="translate(435.3 626.3) scale(1 1.040)" font-size="40" text-anchor="middle" class="" >100</text>
<text transform="translate(554.1 626.3) scale(1 1.040)" font-size="40" text-anchor="middle" class="" >150</text>
<text transform="translate(673.0 626.3) scale(1 1.040)" font-size="40" text-anchor="middle" class="" >200</text>
<text transform="translate(791.9 626.3) scale(1 1.040)" font-size="40" text-anchor="middle" class="" >250</text>
<text transform="translate(910.7 626.3) scale(1 1.040)" font-size="40" text-anchor="middle" class="" >300</text>
<line x1="197.60" y1="503.43" x2="203.00" y2="503.43" stroke="#000" stroke-width="1.9"/>
<line x1="910.70" y1="503.43" x2="905.30" y2="503.43" stroke="#000" stroke-width="1.9"/>
<line x1="197.60" y1="456.94" x2="203.00" y2="456.94" stroke="#000" stroke-width="1.9"/>
<line x1="910.70" y1="456.94" x2="905.30" y2="456.94" stroke="#000" stroke-width="1.9"/>
<line x1="197.60" y1="423.96" x2="203.00" y2="423.96" stroke="#000" stroke-width="1.9"/>
<line x1="910.70" y1="423.96" x2="905.30" y2="423.96" stroke="#000" stroke-width="1.9"/>
<line x1="197.60" y1="398.37" x2="203.00" y2="398.37" stroke="#000" stroke-width="1.9"/>
<line x1="910.70" y1="398.37" x2="905.30" y2="398.37" stroke="#000" stroke-width="1.9"/>
<line x1="197.60" y1="377.47" x2="203.00" y2="377.47" stroke="#000" stroke-width="1.9"/>
<line x1="910.70" y1="377.47" x2="905.30" y2="377.47" stroke="#000" stroke-width="1.9"/>
<line x1="197.60" y1="359.79" x2="203.00" y2="359.79" stroke="#000" stroke-width="1.9"/>
<line x1="910.70" y1="359.79" x2="905.30" y2="359.79" stroke="#000" stroke-width="1.9"/>
<line x1="197.60" y1="344.48" x2="203.00" y2="344.48" stroke="#000" stroke-width="1.9"/>
<line x1="910.70" y1="344.48" x2="905.30" y2="344.48" stroke="#000" stroke-width="1.9"/>
<line x1="197.60" y1="330.98" x2="203.00" y2="330.98" stroke="#000" stroke-width="1.9"/>
<line x1="910.70" y1="330.98" x2="905.30" y2="330.98" stroke="#000" stroke-width="1.9"/>
<line x1="197.60" y1="318.90" x2="208.50" y2="318.90" stroke="#000" stroke-width="1.9"/>
<line x1="910.70" y1="318.90" x2="899.80" y2="318.90" stroke="#000" stroke-width="1.9"/>
<line x1="197.60" y1="239.43" x2="203.00" y2="239.43" stroke="#000" stroke-width="1.9"/>
<line x1="910.70" y1="239.43" x2="905.30" y2="239.43" stroke="#000" stroke-width="1.9"/>
<line x1="197.60" y1="192.94" x2="203.00" y2="192.94" stroke="#000" stroke-width="1.9"/>
<line x1="910.70" y1="192.94" x2="905.30" y2="192.94" stroke="#000" stroke-width="1.9"/>
<line x1="197.60" y1="159.96" x2="203.00" y2="159.96" stroke="#000" stroke-width="1.9"/>
<line x1="910.70" y1="159.96" x2="905.30" y2="159.96" stroke="#000" stroke-width="1.9"/>
<line x1="197.60" y1="134.37" x2="203.00" y2="134.37" stroke="#000" stroke-width="1.9"/>
<line x1="910.70" y1="134.37" x2="905.30" y2="134.37" stroke="#000" stroke-width="1.9"/>
<line x1="197.60" y1="113.47" x2="203.00" y2="113.47" stroke="#000" stroke-width="1.9"/>
<line x1="910.70" y1="113.47" x2="905.30" y2="113.47" stroke="#000" stroke-width="1.9"/>
<line x1="197.60" y1="95.79" x2="203.00" y2="95.79" stroke="#000" stroke-width="1.9"/>
<line x1="910.70" y1="95.79" x2="905.30" y2="95.79" stroke="#000" stroke-width="1.9"/>
<line x1="197.60" y1="80.48" x2="203.00" y2="80.48" stroke="#000" stroke-width="1.9"/>
<line x1="910.70" y1="80.48" x2="905.30" y2="80.48" stroke="#000" stroke-width="1.9"/>
<line x1="197.60" y1="66.98" x2="203.00" y2="66.98" stroke="#000" stroke-width="1.9"/>
<line x1="910.70" y1="66.98" x2="905.30" y2="66.98" stroke="#000" stroke-width="1.9"/>
<line x1="197.60" y1="54.90" x2="208.50" y2="54.90" stroke="#000" stroke-width="1.9"/>
<line x1="910.70" y1="54.90" x2="899.80" y2="54.90" stroke="#000" stroke-width="1.9"/>
<text transform="translate(185.0 70.2) scale(1 1.040)" font-size="40" text-anchor="end" class="" >10<tspan font-size="28" dy="-16">1</tspan></text>
<text transform="translate(185.0 334.2) scale(1 1.040)" font-size="40" text-anchor="end" class="" >10<tspan font-size="28" dy="-16">0</tspan></text>
<text transform="translate(185.0 598.2) scale(1 1.040)" font-size="40" text-anchor="end" class="" >10<tspan font-size="28" dy="-16">-1</tspan></text>
<text transform="translate(554.1 679.1) scale(1 1.010)" font-size="53" text-anchor="middle" class="" >Temperature (K)</text>
<text transform="translate(94.8 293.8) rotate(-90) scale(1 0.970)" font-size="53" text-anchor="middle" class="" ><tspan class="i" textLength="33.5" lengthAdjust="spacingAndGlyphs">ρ</tspan><tspan font-size="27" dy="11.5" dx="-3.5" letter-spacing="-2.3">||</tspan><tspan dy="-11.5"> (mΩcm)</tspan></text>
<text transform="translate(-1.9 40.5) scale(1 1.020)" font-size="55" text-anchor="start" class="b" >(a)</text>
<line x1="208.50" y1="399.50" x2="276.60" y2="399.50" stroke="#0000FF" stroke-width="2.0"/>
<text transform="translate(284.0 409.7) scale(1 1.040)" font-size="29.5" text-anchor="start" class="" >1 atm</text>
<line x1="208.50" y1="436.50" x2="276.60" y2="436.50" stroke="#0A1EFF" stroke-width="2.0"/>
<text transform="translate(284.0 446.7) scale(1 1.040)" font-size="29.5" text-anchor="start" class="" >0.2 GPa</text>
<line x1="208.50" y1="473.10" x2="276.60" y2="473.10" stroke="#300FC8" stroke-width="2.0"/>
<text transform="translate(284.0 483.3) scale(1 1.040)" font-size="29.5" text-anchor="start" class="" >0.4 GPa</text>
<line x1="208.50" y1="509.80" x2="276.60" y2="509.80" stroke="#480AB4" stroke-width="2.0"/>
<text transform="translate(284.0 520.0) scale(1 1.040)" font-size="29.5" text-anchor="start" class="" >0.9 GPa</text>
<line x1="208.50" y1="546.50" x2="276.60" y2="546.50" stroke="#6E0A96" stroke-width="2.0"/>
<text transform="translate(284.0 556.7) scale(1 1.040)" font-size="29.5" text-anchor="start" class="" >1.1 GPa</text>
<line x1="409.00" y1="436.50" x2="477.40" y2="436.50" stroke="#930A70" stroke-width="2.0"/>
<text transform="translate(485.0 446.7) scale(1 1.040)" font-size="29.5" text-anchor="start" class="" >1.4 GPa</text>
<line x1="409.00" y1="473.10" x2="477.40" y2="473.10" stroke="#BA0F32" stroke-width="2.0"/>
<text transform="translate(485.0 483.3) scale(1 1.040)" font-size="29.5" text-anchor="start" class="" >1.6 GPa</text>
<line x1="409.00" y1="509.80" x2="477.40" y2="509.80" stroke="#D80F1E" stroke-width="2.0"/>
<text transform="translate(485.0 520.0) scale(1 1.040)" font-size="29.5" text-anchor="start" class="" >1.8 GPa</text>
<line x1="409.00" y1="546.50" x2="477.40" y2="546.50" stroke="#FA1405" stroke-width="2.0"/>
<text transform="translate(485.0 556.7) scale(1 1.040)" font-size="29.5" text-anchor="start" class="" >2.1 GPa</text>
<rect x="197.60" y="756.70" width="713.10" height="574.40" fill="none" stroke="#000" stroke-width="1.9"/>
<line x1="257.02" y1="756.70" x2="257.02" y2="762.10" stroke="#000" stroke-width="1.9"/>
<line x1="257.02" y1="1331.10" x2="257.02" y2="1325.70" stroke="#000" stroke-width="1.9"/>
<line x1="316.45" y1="756.70" x2="316.45" y2="767.40" stroke="#000" stroke-width="1.9"/>
<line x1="316.45" y1="1331.10" x2="316.45" y2="1320.40" stroke="#000" stroke-width="1.9"/>
<line x1="375.88" y1="756.70" x2="375.88" y2="762.10" stroke="#000" stroke-width="1.9"/>
<line x1="375.88" y1="1331.10" x2="375.88" y2="1325.70" stroke="#000" stroke-width="1.9"/>
<line x1="435.30" y1="756.70" x2="435.30" y2="767.40" stroke="#000" stroke-width="1.9"/>
<line x1="435.30" y1="1331.10" x2="435.30" y2="1320.40" stroke="#000" stroke-width="1.9"/>
<line x1="494.73" y1="756.70" x2="494.73" y2="762.10" stroke="#000" stroke-width="1.9"/>
<line x1="494.73" y1="1331.10" x2="494.73" y2="1325.70" stroke="#000" stroke-width="1.9"/>
<line x1="554.15" y1="756.70" x2="554.15" y2="767.40" stroke="#000" stroke-width="1.9"/>
<line x1="554.15" y1="1331.10" x2="554.15" y2="1320.40" stroke="#000" stroke-width="1.9"/>
<line x1="613.58" y1="756.70" x2="613.58" y2="762.10" stroke="#000" stroke-width="1.9"/>
<line x1="613.58" y1="1331.10" x2="613.58" y2="1325.70" stroke="#000" stroke-width="1.9"/>
<line x1="673.00" y1="756.70" x2="673.00" y2="767.40" stroke="#000" stroke-width="1.9"/>
<line x1="673.00" y1="1331.10" x2="673.00" y2="1320.40" stroke="#000" stroke-width="1.9"/>
<line x1="732.43" y1="756.70" x2="732.43" y2="762.10" stroke="#000" stroke-width="1.9"/>
<line x1="732.43" y1="1331.10" x2="732.43" y2="1325.70" stroke="#000" stroke-width="1.9"/>
<line x1="791.85" y1="756.70" x2="791.85" y2="767.40" stroke="#000" stroke-width="1.9"/>
<line x1="791.85" y1="1331.10" x2="791.85" y2="1320.40" stroke="#000" stroke-width="1.9"/>
<line x1="851.28" y1="756.70" x2="851.28" y2="762.10" stroke="#000" stroke-width="1.9"/>
<line x1="851.28" y1="1331.10" x2="851.28" y2="1325.70" stroke="#000" stroke-width="1.9"/>
<text transform="translate(197.6 1373.9) scale(1 1.040)" font-size="40" text-anchor="middle" class="" >0</text>
<text transform="translate(316.4 1373.9) scale(1 1.040)" font-size="40" text-anchor="middle" class="" >50</text>
<text transform="translate(435.3 1373.9) scale(1 1.040)" font-size="40" text-anchor="middle" class="" >100</text>
<text transform="translate(554.1 1373.9) scale(1 1.040)" font-size="40" text-anchor="middle" class="" >150</text>
<text transform="translate(673.0 1373.9) scale(1 1.040)" font-size="40" text-anchor="middle" class="" >200</text>
<text transform="translate(791.9 1373.9) scale(1 1.040)" font-size="40" text-anchor="middle" class="" >250</text>
<text transform="translate(910.7 1373.9) scale(1 1.040)" font-size="40" text-anchor="middle" class="" >300</text>
<line x1="197.60" y1="1251.73" x2="203.00" y2="1251.73" stroke="#000" stroke-width="1.9"/>
<line x1="910.70" y1="1251.73" x2="905.30" y2="1251.73" stroke="#000" stroke-width="1.9"/>
<line x1="197.60" y1="1205.24" x2="203.00" y2="1205.24" stroke="#000" stroke-width="1.9"/>
<line x1="910.70" y1="1205.24" x2="905.30" y2="1205.24" stroke="#000" stroke-width="1.9"/>
<line x1="197.60" y1="1172.26" x2="203.00" y2="1172.26" stroke="#000" stroke-width="1.9"/>
<line x1="910.70" y1="1172.26" x2="905.30" y2="1172.26" stroke="#000" stroke-width="1.9"/>
<line x1="197.60" y1="1146.67" x2="203.00" y2="1146.67" stroke="#000" stroke-width="1.9"/>
<line x1="910.70" y1="1146.67" x2="905.30" y2="1146.67" stroke="#000" stroke-width="1.9"/>
<line x1="197.60" y1="1125.77" x2="203.00" y2="1125.77" stroke="#000" stroke-width="1.9"/>
<line x1="910.70" y1="1125.77" x2="905.30" y2="1125.77" stroke="#000" stroke-width="1.9"/>
<line x1="197.60" y1="1108.09" x2="203.00" y2="1108.09" stroke="#000" stroke-width="1.9"/>
<line x1="910.70" y1="1108.09" x2="905.30" y2="1108.09" stroke="#000" stroke-width="1.9"/>
<line x1="197.60" y1="1092.78" x2="203.00" y2="1092.78" stroke="#000" stroke-width="1.9"/>
<line x1="910.70" y1="1092.78" x2="905.30" y2="1092.78" stroke="#000" stroke-width="1.9"/>
<line x1="197.60" y1="1079.28" x2="203.00" y2="1079.28" stroke="#000" stroke-width="1.9"/>
<line x1="910.70" y1="1079.28" x2="905.30" y2="1079.28" stroke="#000" stroke-width="1.9"/>
<line x1="197.60" y1="1067.20" x2="208.50" y2="1067.20" stroke="#000" stroke-width="1.9"/>
<line x1="910.70" y1="1067.20" x2="899.80" y2="1067.20" stroke="#000" stroke-width="1.9"/>
<line x1="197.60" y1="987.73" x2="203.00" y2="987.73" stroke="#000" stroke-width="1.9"/>
<line x1="910.70" y1="987.73" x2="905.30" y2="987.73" stroke="#000" stroke-width="1.9"/>
<line x1="197.60" y1="941.24" x2="203.00" y2="941.24" stroke="#000" stroke-width="1.9"/>
<line x1="910.70" y1="941.24" x2="905.30" y2="941.24" stroke="#000" stroke-width="1.9"/>
<line x1="197.60" y1="908.26" x2="203.00" y2="908.26" stroke="#000" stroke-width="1.9"/>
<line x1="910.70" y1="908.26" x2="905.30" y2="908.26" stroke="#000" stroke-width="1.9"/>
<line x1="197.60" y1="882.67" x2="203.00" y2="882.67" stroke="#000" stroke-width="1.9"/>
<line x1="910.70" y1="882.67" x2="905.30" y2="882.67" stroke="#000" stroke-width="1.9"/>
<line x1="197.60" y1="861.77" x2="203.00" y2="861.77" stroke="#000" stroke-width="1.9"/>
<line x1="910.70" y1="861.77" x2="905.30" y2="861.77" stroke="#000" stroke-width="1.9"/>
<line x1="197.60" y1="844.09" x2="203.00" y2="844.09" stroke="#000" stroke-width="1.9"/>
<line x1="910.70" y1="844.09" x2="905.30" y2="844.09" stroke="#000" stroke-width="1.9"/>
<line x1="197.60" y1="828.78" x2="203.00" y2="828.78" stroke="#000" stroke-width="1.9"/>
<line x1="910.70" y1="828.78" x2="905.30" y2="828.78" stroke="#000" stroke-width="1.9"/>
<line x1="197.60" y1="815.28" x2="203.00" y2="815.28" stroke="#000" stroke-width="1.9"/>
<line x1="910.70" y1="815.28" x2="905.30" y2="815.28" stroke="#000" stroke-width="1.9"/>
<line x1="197.60" y1="803.20" x2="208.50" y2="803.20" stroke="#000" stroke-width="1.9"/>
<line x1="910.70" y1="803.20" x2="899.80" y2="803.20" stroke="#000" stroke-width="1.9"/>
<text transform="translate(185.0 818.5) scale(1 1.040)" font-size="40" text-anchor="end" class="" >10<tspan font-size="28" dy="-16">1</tspan></text>
<text transform="translate(185.0 1082.5) scale(1 1.040)" font-size="40" text-anchor="end" class="" >10<tspan font-size="28" dy="-16">0</tspan></text>
<text transform="translate(185.0 1346.5) scale(1 1.040)" font-size="40" text-anchor="end" class="" >10<tspan font-size="28" dy="-16">-1</tspan></text>
<text transform="translate(554.1 1426.7) scale(1 1.010)" font-size="53" text-anchor="middle" class="" >Temperature (K)</text>
<text transform="translate(94.8 1041.9) rotate(-90) scale(1 0.970)" font-size="53" text-anchor="middle" class="" ><tspan class="i" textLength="33.5" lengthAdjust="spacingAndGlyphs">ρ</tspan><tspan font-size="27" dy="11.5" dx="-3.5" letter-spacing="-2.3">||</tspan><tspan dy="-11.5"> (mΩcm)</tspan></text>
<text transform="translate(-1.9 788.0) scale(1 1.020)" font-size="55" text-anchor="start" class="b" >(b)</text>
<line x1="520.80" y1="1155.50" x2="588.90" y2="1155.50" stroke="#0000FF" stroke-width="2.0"/>
<text transform="translate(596.3 1165.7) scale(1 1.040)" font-size="29.5" text-anchor="start" class="" >1 atm</text>
<line x1="520.80" y1="1192.50" x2="588.90" y2="1192.50" stroke="#0A1EFF" stroke-width="2.0"/>
<text transform="translate(596.3 1202.7) scale(1 1.040)" font-size="29.5" text-anchor="start" class="" >0.2 GPa</text>
<line x1="520.80" y1="1229.10" x2="588.90" y2="1229.10" stroke="#300FC8" stroke-width="2.0"/>
<text transform="translate(596.3 1239.3) scale(1 1.040)" font-size="29.5" text-anchor="start" class="" >0.4 GPa</text>
<line x1="520.80" y1="1265.80" x2="588.90" y2="1265.80" stroke="#480AB4" stroke-width="2.0"/>
<text transform="translate(596.3 1276.0) scale(1 1.040)" font-size="29.5" text-anchor="start" class="" >0.9 GPa</text>
<line x1="520.80" y1="1302.50" x2="588.90" y2="1302.50" stroke="#6E0A96" stroke-width="2.0"/>
<text transform="translate(596.3 1312.7) scale(1 1.040)" font-size="29.5" text-anchor="start" class="" >1.1 GPa</text>
<line x1="718.60" y1="1192.50" x2="787.00" y2="1192.50" stroke="#930A70" stroke-width="2.0"/>
<text transform="translate(794.6 1202.7) scale(1 1.040)" font-size="29.5" text-anchor="start" class="" >1.4 GPa</text>
<line x1="718.60" y1="1229.10" x2="787.00" y2="1229.10" stroke="#BA0F32" stroke-width="2.0"/>
<text transform="translate(794.6 1239.3) scale(1 1.040)" font-size="29.5" text-anchor="start" class="" >1.6 GPa</text>
<line x1="718.60" y1="1265.80" x2="787.00" y2="1265.80" stroke="#D80F1E" stroke-width="2.0"/>
<text transform="translate(794.6 1276.0) scale(1 1.040)" font-size="29.5" text-anchor="start" class="" >1.8 GPa</text>
<line x1="718.60" y1="1302.50" x2="787.00" y2="1302.50" stroke="#FA1405" stroke-width="2.0"/>
<text transform="translate(794.6 1312.7) scale(1 1.040)" font-size="29.5" text-anchor="start" class="" >2.1 GPa</text>
<rect x="190.80" y="1512.60" width="724.20" height="583.40" fill="none" stroke="#000" stroke-width="1.9"/>
<line x1="251.15" y1="1512.60" x2="251.15" y2="1518.40" stroke="#000" stroke-width="1.9"/>
<line x1="251.15" y1="2096.00" x2="251.15" y2="2090.20" stroke="#000" stroke-width="1.9"/>
<line x1="311.50" y1="1512.60" x2="311.50" y2="1523.50" stroke="#000" stroke-width="1.9"/>
<line x1="311.50" y1="2096.00" x2="311.50" y2="2085.10" stroke="#000" stroke-width="1.9"/>
<line x1="371.85" y1="1512.60" x2="371.85" y2="1518.40" stroke="#000" stroke-width="1.9"/>
<line x1="371.85" y1="2096.00" x2="371.85" y2="2090.20" stroke="#000" stroke-width="1.9"/>
<line x1="432.20" y1="1512.60" x2="432.20" y2="1523.50" stroke="#000" stroke-width="1.9"/>
<line x1="432.20" y1="2096.00" x2="432.20" y2="2085.10" stroke="#000" stroke-width="1.9"/>
<line x1="492.55" y1="1512.60" x2="492.55" y2="1518.40" stroke="#000" stroke-width="1.9"/>
<line x1="492.55" y1="2096.00" x2="492.55" y2="2090.20" stroke="#000" stroke-width="1.9"/>
<line x1="552.90" y1="1512.60" x2="552.90" y2="1523.50" stroke="#000" stroke-width="1.9"/>
<line x1="552.90" y1="2096.00" x2="552.90" y2="2085.10" stroke="#000" stroke-width="1.9"/>
<line x1="613.25" y1="1512.60" x2="613.25" y2="1518.40" stroke="#000" stroke-width="1.9"/>
<line x1="613.25" y1="2096.00" x2="613.25" y2="2090.20" stroke="#000" stroke-width="1.9"/>
<line x1="673.60" y1="1512.60" x2="673.60" y2="1523.50" stroke="#000" stroke-width="1.9"/>
<line x1="673.60" y1="2096.00" x2="673.60" y2="2085.10" stroke="#000" stroke-width="1.9"/>
<line x1="733.95" y1="1512.60" x2="733.95" y2="1518.40" stroke="#000" stroke-width="1.9"/>
<line x1="733.95" y1="2096.00" x2="733.95" y2="2090.20" stroke="#000" stroke-width="1.9"/>
<line x1="794.30" y1="1512.60" x2="794.30" y2="1523.50" stroke="#000" stroke-width="1.9"/>
<line x1="794.30" y1="2096.00" x2="794.30" y2="2085.10" stroke="#000" stroke-width="1.9"/>
<line x1="854.65" y1="1512.60" x2="854.65" y2="1518.40" stroke="#000" stroke-width="1.9"/>
<line x1="854.65" y1="2096.00" x2="854.65" y2="2090.20" stroke="#000" stroke-width="1.9"/>
<text transform="translate(190.8 2139.0) scale(1 1.040)" font-size="40" text-anchor="middle" class="" >0</text>
<text transform="translate(311.5 2139.0) scale(1 1.040)" font-size="40" text-anchor="middle" class="" >50</text>
<text transform="translate(432.2 2139.0) scale(1 1.040)" font-size="40" text-anchor="middle" class="" >100</text>
<text transform="translate(552.9 2139.0) scale(1 1.040)" font-size="40" text-anchor="middle" class="" >150</text>
<text transform="translate(673.6 2139.0) scale(1 1.040)" font-size="40" text-anchor="middle" class="" >200</text>
<text transform="translate(794.3 2139.0) scale(1 1.040)" font-size="40" text-anchor="middle" class="" >250</text>
<text transform="translate(915.0 2139.0) scale(1 1.040)" font-size="40" text-anchor="middle" class="" >300</text>
<text transform="translate(178.0 2108.2) scale(1 1.040)" font-size="40" text-anchor="end" class="" >0.2</text>
<line x1="190.80" y1="2054.33" x2="196.60" y2="2054.33" stroke="#000" stroke-width="1.9"/>
<line x1="915.00" y1="2054.33" x2="909.20" y2="2054.33" stroke="#000" stroke-width="1.9"/>
<text transform="translate(178.0 2024.9) scale(1 1.040)" font-size="40" text-anchor="end" class="" >0.4</text>
<line x1="190.80" y1="2012.66" x2="201.70" y2="2012.66" stroke="#000" stroke-width="1.9"/>
<line x1="915.00" y1="2012.66" x2="904.10" y2="2012.66" stroke="#000" stroke-width="1.9"/>
<line x1="190.80" y1="1970.99" x2="196.60" y2="1970.99" stroke="#000" stroke-width="1.9"/>
<line x1="915.00" y1="1970.99" x2="909.20" y2="1970.99" stroke="#000" stroke-width="1.9"/>
<text transform="translate(178.0 1941.5) scale(1 1.040)" font-size="40" text-anchor="end" class="" >0.6</text>
<line x1="190.80" y1="1929.31" x2="201.70" y2="1929.31" stroke="#000" stroke-width="1.9"/>
<line x1="915.00" y1="1929.31" x2="904.10" y2="1929.31" stroke="#000" stroke-width="1.9"/>
<line x1="190.80" y1="1887.64" x2="196.60" y2="1887.64" stroke="#000" stroke-width="1.9"/>
<line x1="915.00" y1="1887.64" x2="909.20" y2="1887.64" stroke="#000" stroke-width="1.9"/>
<text transform="translate(178.0 1858.2) scale(1 1.040)" font-size="40" text-anchor="end" class="" >0.8</text>
<line x1="190.80" y1="1845.97" x2="201.70" y2="1845.97" stroke="#000" stroke-width="1.9"/>
<line x1="915.00" y1="1845.97" x2="904.10" y2="1845.97" stroke="#000" stroke-width="1.9"/>
<line x1="190.80" y1="1804.30" x2="196.60" y2="1804.30" stroke="#000" stroke-width="1.9"/>
<line x1="915.00" y1="1804.30" x2="909.20" y2="1804.30" stroke="#000" stroke-width="1.9"/>
<text transform="translate(178.0 1774.8) scale(1 1.040)" font-size="40" text-anchor="end" class="" >1.0</text>
<line x1="190.80" y1="1762.63" x2="201.70" y2="1762.63" stroke="#000" stroke-width="1.9"/>
<line x1="915.00" y1="1762.63" x2="904.10" y2="1762.63" stroke="#000" stroke-width="1.9"/>
<line x1="190.80" y1="1720.96" x2="196.60" y2="1720.96" stroke="#000" stroke-width="1.9"/>
<line x1="915.00" y1="1720.96" x2="909.20" y2="1720.96" stroke="#000" stroke-width="1.9"/>
<text transform="translate(178.0 1691.5) scale(1 1.040)" font-size="40" text-anchor="end" class="" >1.2</text>
<line x1="190.80" y1="1679.29" x2="201.70" y2="1679.29" stroke="#000" stroke-width="1.9"/>
<line x1="915.00" y1="1679.29" x2="904.10" y2="1679.29" stroke="#000" stroke-width="1.9"/>
<line x1="190.80" y1="1637.61" x2="196.60" y2="1637.61" stroke="#000" stroke-width="1.9"/>
<line x1="915.00" y1="1637.61" x2="909.20" y2="1637.61" stroke="#000" stroke-width="1.9"/>
<text transform="translate(178.0 1608.1) scale(1 1.040)" font-size="40" text-anchor="end" class="" >1.4</text>
<line x1="190.80" y1="1595.94" x2="201.70" y2="1595.94" stroke="#000" stroke-width="1.9"/>
<line x1="915.00" y1="1595.94" x2="904.10" y2="1595.94" stroke="#000" stroke-width="1.9"/>
<line x1="190.80" y1="1554.27" x2="196.60" y2="1554.27" stroke="#000" stroke-width="1.9"/>
<line x1="915.00" y1="1554.27" x2="909.20" y2="1554.27" stroke="#000" stroke-width="1.9"/>
<text transform="translate(178.0 1524.8) scale(1 1.040)" font-size="40" text-anchor="end" class="" >1.6</text>
<text transform="translate(552.9 2191.6) scale(1 1.010)" font-size="53" text-anchor="middle" class="" >Temperature (K)</text>
<text transform="translate(101.0 1801.2) rotate(-90) scale(1 0.990)" font-size="52" text-anchor="middle" class="" >Resistivity (mΩcm)</text>
<text transform="translate(-1.9 1529.7) scale(1 1.020)" font-size="55" text-anchor="start" class="b" >(c)</text>
<text transform="translate(223.0 1913.6) scale(1 1.040)" font-size="59" text-anchor="start" class="" >2.1 GPa</text>
<text transform="translate(631.5 2019.6) scale(1 1.000)" font-size="46.8" text-anchor="start" class="i" >in-plane</text>
<text transform="translate(631.5 2072.4) scale(1 1.000)" font-size="46.8" text-anchor="start" class="i" >out-of-plane</text>
<rect x="531.60" y="1535.80" width="362.20" height="215.40" fill="none" stroke="#2a2a2a" stroke-width="1.2"/>
<line x1="555.82" y1="1535.80" x2="555.82" y2="1538.40" stroke="#2a2a2a" stroke-width="1.1"/>
<line x1="555.82" y1="1751.20" x2="555.82" y2="1748.60" stroke="#2a2a2a" stroke-width="1.1"/>
<line x1="579.94" y1="1535.80" x2="579.94" y2="1538.40" stroke="#2a2a2a" stroke-width="1.1"/>
<line x1="579.94" y1="1751.20" x2="579.94" y2="1748.60" stroke="#2a2a2a" stroke-width="1.1"/>
<line x1="604.06" y1="1535.80" x2="604.06" y2="1538.40" stroke="#2a2a2a" stroke-width="1.1"/>
<line x1="604.06" y1="1751.20" x2="604.06" y2="1748.60" stroke="#2a2a2a" stroke-width="1.1"/>
<line x1="628.18" y1="1535.80" x2="628.18" y2="1538.40" stroke="#2a2a2a" stroke-width="1.1"/>
<line x1="628.18" y1="1751.20" x2="628.18" y2="1748.60" stroke="#2a2a2a" stroke-width="1.1"/>
<line x1="652.30" y1="1535.80" x2="652.30" y2="1538.40" stroke="#2a2a2a" stroke-width="1.1"/>
<line x1="652.30" y1="1751.20" x2="652.30" y2="1748.60" stroke="#2a2a2a" stroke-width="1.1"/>
<line x1="676.42" y1="1535.80" x2="676.42" y2="1540.30" stroke="#2a2a2a" stroke-width="1.1"/>
<line x1="676.42" y1="1751.20" x2="676.42" y2="1746.70" stroke="#2a2a2a" stroke-width="1.1"/>
<line x1="700.54" y1="1535.80" x2="700.54" y2="1538.40" stroke="#2a2a2a" stroke-width="1.1"/>
<line x1="700.54" y1="1751.20" x2="700.54" y2="1748.60" stroke="#2a2a2a" stroke-width="1.1"/>
<line x1="724.66" y1="1535.80" x2="724.66" y2="1538.40" stroke="#2a2a2a" stroke-width="1.1"/>
<line x1="724.66" y1="1751.20" x2="724.66" y2="1748.60" stroke="#2a2a2a" stroke-width="1.1"/>
<line x1="748.78" y1="1535.80" x2="748.78" y2="1538.40" stroke="#2a2a2a" stroke-width="1.1"/>
<line x1="748.78" y1="1751.20" x2="748.78" y2="1748.60" stroke="#2a2a2a" stroke-width="1.1"/>
<line x1="772.90" y1="1535.80" x2="772.90" y2="1538.40" stroke="#2a2a2a" stroke-width="1.1"/>
<line x1="772.90" y1="1751.20" x2="772.90" y2="1748.60" stroke="#2a2a2a" stroke-width="1.1"/>
<line x1="797.02" y1="1535.80" x2="797.02" y2="1538.40" stroke="#2a2a2a" stroke-width="1.1"/>
<line x1="797.02" y1="1751.20" x2="797.02" y2="1748.60" stroke="#2a2a2a" stroke-width="1.1"/>
<line x1="821.14" y1="1535.80" x2="821.14" y2="1540.30" stroke="#2a2a2a" stroke-width="1.1"/>
<line x1="821.14" y1="1751.20" x2="821.14" y2="1746.70" stroke="#2a2a2a" stroke-width="1.1"/>
<line x1="845.26" y1="1535.80" x2="845.26" y2="1538.40" stroke="#2a2a2a" stroke-width="1.1"/>
<line x1="845.26" y1="1751.20" x2="845.26" y2="1748.60" stroke="#2a2a2a" stroke-width="1.1"/>
<line x1="869.38" y1="1535.80" x2="869.38" y2="1538.40" stroke="#2a2a2a" stroke-width="1.1"/>
<line x1="869.38" y1="1751.20" x2="869.38" y2="1748.60" stroke="#2a2a2a" stroke-width="1.1"/>
<line x1="893.50" y1="1535.80" x2="893.50" y2="1538.40" stroke="#2a2a2a" stroke-width="1.1"/>
<line x1="893.50" y1="1751.20" x2="893.50" y2="1748.60" stroke="#2a2a2a" stroke-width="1.1"/>
<line x1="531.60" y1="1735.70" x2="536.10" y2="1735.70" stroke="#2a2a2a" stroke-width="1.1"/>
<line x1="893.80" y1="1735.70" x2="889.30" y2="1735.70" stroke="#2a2a2a" stroke-width="1.1"/>
<text transform="translate(526.0 1742.9) scale(1 1.040)" font-size="22" text-anchor="end" class="" >0.30</text>
<line x1="531.60" y1="1685.73" x2="534.20" y2="1685.73" stroke="#2a2a2a" stroke-width="1.1"/>
<line x1="893.80" y1="1685.73" x2="891.20" y2="1685.73" stroke="#2a2a2a" stroke-width="1.1"/>
<line x1="531.60" y1="1635.75" x2="536.10" y2="1635.75" stroke="#2a2a2a" stroke-width="1.1"/>
<line x1="893.80" y1="1635.75" x2="889.30" y2="1635.75" stroke="#2a2a2a" stroke-width="1.1"/>
<text transform="translate(526.0 1643.0) scale(1 1.040)" font-size="22" text-anchor="end" class="" >0.32</text>
<line x1="531.60" y1="1585.78" x2="534.20" y2="1585.78" stroke="#2a2a2a" stroke-width="1.1"/>
<line x1="893.80" y1="1585.78" x2="891.20" y2="1585.78" stroke="#2a2a2a" stroke-width="1.1"/>
<text transform="translate(526.0 1542.0) scale(1 1.040)" font-size="22" text-anchor="end" class="" >0.34</text>
<text transform="translate(532.2 1773.5) scale(1 1.040)" font-size="22" text-anchor="middle" class="" >0</text>
<text transform="translate(676.9 1773.5) scale(1 1.040)" font-size="22" text-anchor="middle" class="" >600</text>
<text transform="translate(821.6 1773.5) scale(1 1.040)" font-size="22" text-anchor="middle" class="" >1200</text>
<text transform="translate(662.5 1820.3) scale(1 1.040)" font-size="40" text-anchor="start" class="" ><tspan class="i" textLength="27" lengthAdjust="spacingAndGlyphs">T</tspan><tspan font-size="22" dy="-21" dx="0.5">2</tspan><tspan dy="21" dx="1.5">(K</tspan><tspan font-size="22" dy="-21" dx="1.5">2</tspan><tspan dy="21" dx="0.8">)</tspan></text>
<text transform="translate(463.0 1637.0) rotate(-90) scale(1 0.980)" font-size="40" text-anchor="middle" class="" ><tspan class="i">ρ</tspan><tspan font-size="16" dy="12.5" dx="3">⊥</tspan><tspan dy="-12.5" dx="-9"> (mΩcm)</tspan></text>
<text transform="translate(720.2 1678.1) scale(1 1.040)" font-size="23" text-anchor="start" class="" ><tspan class="i">ρ</tspan>(T) = <tspan class="i">ρ</tspan><tspan font-size="13.5" dy="6">0</tspan><tspan dy="-6" dx="1.5"> + </tspan><tspan class="i" dx="0.8" letter-spacing="1.3">AT</tspan><tspan font-size="13.5" dy="-11" dx="1.5">2</tspan></text>
<text transform="translate(687.9 1711.6) scale(1 1.040)" font-size="23" text-anchor="start" class="" ><tspan class="i">A</tspan> = 22 nΩcm/K<tspan font-size="13.5" dy="-11" dx="1">2</tspan></text>
<text transform="translate(690.0 1736.8) scale(1 1.040)" font-size="23" text-anchor="start" class="" ><tspan class="i">ρ</tspan><tspan font-size="13.5" dy="6">0</tspan><tspan dy="-6" dx="0.5"> = 0.3075 mΩcm</tspan></text>
</svg>
</body></html>
